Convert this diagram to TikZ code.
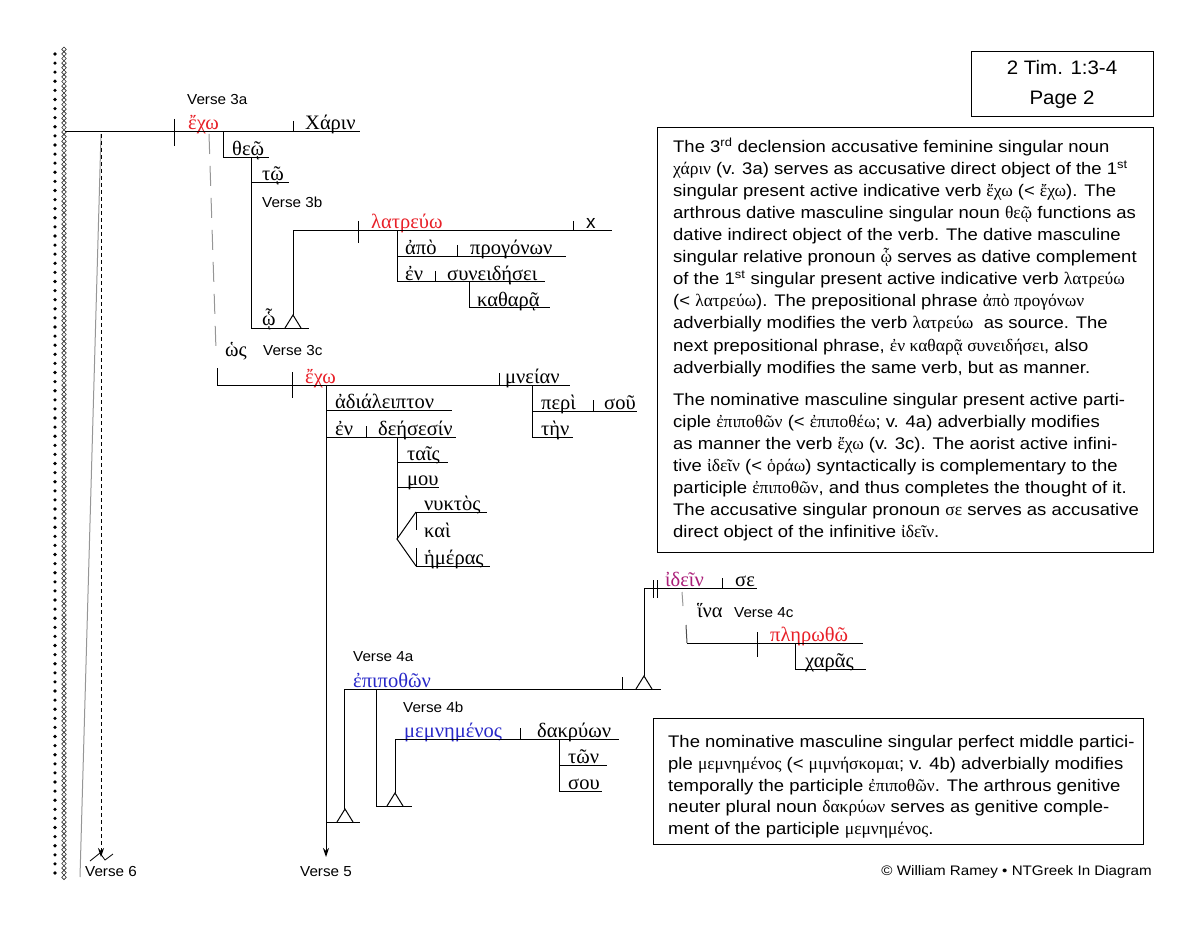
\documentclass[tikz,border=0pt]{standalone}
\usepackage{fontspec}
\setmainfont{Liberation Sans}
\newfontfamily\grfont{Liberation Serif}
\newfontfamily\arfont{Liberation Sans}[FakeStretch=1.10]
\newfontfamily\lbfont{Liberation Sans}[FakeStretch=1.05]
\usetikzlibrary{arrows.meta}
\newcommand\grw{\grfont\fontsize{20.5}{24}\selectfont}
\newcommand\gs{\grfont\fontsize{17.5}{20}\selectfont}
\newcommand\txf{\arfont\fontsize{16.8}{22}\selectfont}
\newcommand\vlabf{\lbfont\fontsize{14.5}{16}\selectfont}
\definecolor{vred}{RGB}{232,32,40}
\definecolor{vblue}{RGB}{40,40,200}
\definecolor{vmag}{RGB}{170,30,120}
\definecolor{lgray}{RGB}{150,150,150}
\newcommand\trimark[1]{\draw[ln] (#1) ++(-8,0) -- ++(8,-13) -- ++(8,13);}
\begin{document}
\begin{tikzpicture}[x=1pt,y=-1pt,
  ln/.style={line width=1pt},
  gw/.style={font=\grw, anchor=base west, inner sep=0},
  vl/.style={font=\vlabf, anchor=west, inner sep=0},
  tl/.style={font=\txf, anchor=base west, inner sep=0},
  boxr/.style={draw, line width=1pt, inner sep=0, anchor=north west}]
\useasboundingbox (0,0) rectangle (1203,928);

% left border
\foreach \i in {0,...,90} \fill (55,54+\i*9.1) circle (1.8);
\foreach \i in {0,...,180} \draw[line width=0.6pt, black!85] (64,47+\i*4.6) -- ++(2.3,2.3) -- ++(-2.3,2.3) -- ++(-2.3,-2.3) -- cycle;

% coordinates
\coordinate (mainL) at (65,132);
\coordinate (v6top) at (101,134);
\coordinate (v6end) at (101,857);
\coordinate (v6gray) at (80,877);
\coordinate (v5top) at (326,385);
\coordinate (v5end) at (326,857);

% words
\node[gw, text=vred] (exo1) at (188,130) {ἔχω};
\node[gw] (xarin) at (305,130) {Χάριν};
\node[gw] (theo) at (232,156) {θεῷ};
\node[gw] (to) at (262,181) {τῷ};
\node[gw] (ho) at (262,326) {ᾧ};
\node[gw, text=vred] (latreuo) at (371,229) {λατρεύω};
\node[anchor=base west, inner sep=0, font=\fontsize{19}{20}\selectfont] (xx) at (586,229) {x};
\node[gw] (apo) at (405,255) {ἀπὸ};
\node[gw] (progonon) at (470,255) {προγόνων};
\node[gw] (en1) at (405,280) {ἐν};
\node[gw] (syneid) at (447,280) {συνειδήσει};
\node[gw] (kathara) at (477,306) {καθαρᾷ};
\node[gw] (hos) at (225,356) {ὡς};
\node[gw, text=vred] (exo2) at (305,383) {ἔχω};
\node[gw] (mneian) at (505,383) {μνείαν};
\node[gw] (adial) at (335,408) {ἀδιάλειπτον};
\node[gw] (en2) at (335,435) {ἐν};
\node[gw] (deesesin) at (378,435) {δεήσεσίν};
\node[gw] (tais) at (407,460) {ταῖς};
\node[gw] (mou) at (407,485) {μου};
\node[gw] (nyktos) at (424,510) {νυκτὸς};
\node[gw] (kai) at (424,537) {καὶ};
\node[gw] (hemeras) at (424,564) {ἡμέρας};
\node[gw] (peri) at (541,409) {περὶ};
\node[gw] (sou1) at (604,409) {σοῦ};
\node[gw] (ten) at (541,435) {τὴν};
\node[gw, text=vmag] (idein) at (665,586) {ἰδεῖν};
\node[gw] (se) at (735,586) {σε};
\node[gw] (hina) at (697,617) {ἵνα};
\node[gw, text=vred] (plerotho) at (770,641) {πληρωθῶ};
\node[gw] (xaras) at (805,667) {χαρᾶς};
\node[gw, text=vblue] (epipothon) at (353,687) {ἐπιποθῶν};
\node[gw, text=vblue] (memn) at (404,737) {μεμνημένος};
\node[gw] (dakryon) at (537,737) {δακρύων};
\node[gw] (ton) at (568,763) {τῶν};
\node[gw] (sou2) at (568,789) {σου};

% verse labels
\node[vl] (v3a) at (187,100) {Verse 3a};
\node[vl] (v3b) at (262,202) {Verse 3b};
\node[vl] (v3c) at (263,351) {Verse 3c};
\node[vl] (v4a) at (353,657) {Verse 4a};
\node[vl] (v4b) at (403,707) {Verse 4b};
\node[vl] (v4c) at (734,613) {Verse 4c};
\node[vl] (v6) at (85,872) {Verse 6};
\node[vl] (v5) at (300,872) {Verse 5};

% verse 6 connectors
\draw[line width=1pt, lgray] (v6top) -- (v6gray);
\draw[line width=1pt, dash pattern=on 4pt off 3pt, -{Stealth[length=9pt,width=6pt]}] (v6top) -- (v6end);
\draw[line width=0.8pt] (90,861) -- (100,853) -- (105,860) -- (113,854);

% clause 3a
\draw[ln] (mainL) -- (360,132);
\draw[ln] (174,119) -- (174,146);
\draw[ln] (293,121) -- (293,132);
\draw[ln] (223,132) -- (223,158) -- (269,158);
\draw[ln] (251,158) -- (251,328) -- (309,328);
\draw[ln] (251,183) -- (289,183);
\coordinate (triA) at (293,328);
\trimark{triA}
\draw[ln] (293,315) -- (293,231) -- (612,231);
\draw[ln] (358,221) -- (358,243);
\draw[ln] (573,221) -- (573,231);
\draw[ln] (397,231) -- (397,282) -- (545,282);
\draw[ln] (397,257) -- (566,257);
\draw[ln] (457,245) -- (457,257);
\draw[ln] (435,271) -- (435,282);
\draw[ln] (469,282) -- (469,308) -- (550,308);

% hos connector
\draw[line width=1pt, lgray, dash pattern=on 20pt off 12pt] (209,134) -- (216,350);
\draw[ln] (217,368) -- (217,385) -- (570,385);

% clause 3c
\draw[ln] (292,372) -- (292,398);
\draw[ln] (499,373) -- (499,385);
\draw[ln, -{Stealth[length=9pt,width=6pt]}] (v5top) -- (v5end);
\draw[ln] (326,410) -- (452,410);
\draw[ln] (326,437) -- (456,437);
\draw[ln] (366,426) -- (366,437);
\draw[ln] (397,437) -- (397,539);
\draw[ln] (397,462) -- (448,462);
\draw[ln] (397,487) -- (439,487);
\draw[ln] (416,512) -- (397,539) -- (416,566);
\draw[ln] (416,512) -- (487,512);
\draw[ln] (416,566) -- (490,566);
\draw[ln] (416,512) -- (416,530);
\draw[ln] (416,548) -- (416,566);
\draw[ln] (532,385) -- (532,437) -- (573,437);
\draw[ln] (532,411) -- (637,411);
\draw[ln] (593,400) -- (593,411);

% verse 4a
\draw[ln] (344,689) -- (661,689);
\draw[ln] (622,677) -- (622,689);
\coordinate (triB) at (644,689);
\trimark{triB}
\draw[ln] (644,676) -- (644,588) -- (757,588);
\draw[ln] (653,580) -- (653,598);
\draw[ln] (657,580) -- (657,598);
\draw[ln] (722,578) -- (722,588);
\draw[line width=1pt, lgray] (682,592) -- (683,606);
\draw[line width=1pt, black!70] (686,625) -- (687,643);
\draw[ln] (687,643) -- (863,643);
\draw[ln] (757,632) -- (757,657);
\draw[ln] (795,643) -- (795,669) -- (866,669);
\draw[ln] (344,689) -- (344,809);
\coordinate (triC) at (345,822);
\trimark{triC}
\draw[ln] (326,822) -- (360,822);

% verse 4b
\draw[ln] (376,689) -- (376,806) -- (412,806);
\coordinate (triD) at (395,806);
\trimark{triD}
\draw[ln] (395,793) -- (395,739) -- (619,739);
\draw[ln] (520,728) -- (520,739);
\draw[ln] (559,739) -- (559,791) -- (602,791);
\draw[ln] (559,765) -- (607,765);

% title box
\node[draw, line width=1pt, minimum width=182pt, minimum height=65pt, align=center, inner sep=0,
  font=\lbfont\fontsize{19.5}{30}\selectfont] (title) at (1062,84.5) {2 Tim. 1:3-4\\Page 2};

% note box 1
\node[boxr, minimum width=496pt, minimum height=425pt] (box1) at (657,127) {};
\node[tl] (b1) at (673,153) {The 3\textsuperscript{rd} declension accusative feminine singular noun};
\node[tl] (b2) at (673,175) {{\gs χάριν} (v. 3a) serves as accusative direct object of the 1\textsuperscript{st}};
\node[tl] (b3) at (673,197) {singular present active indicative verb {\gs ἔχω} (< {\gs ἔχω}). The};
\node[tl] (b4) at (673,219) {arthrous dative masculine singular noun {\gs θεῷ} functions as};
\node[tl] (b5) at (673,241) {dative indirect object of the verb. The dative masculine};
\node[tl] (b6) at (673,263) {singular relative pronoun {\gs ᾧ} serves as dative complement};
\node[tl] (b7) at (673,285) {of the 1\textsuperscript{st} singular present active indicative verb {\gs λατρεύω}};
\node[tl] (b8) at (673,307) {(< {\gs λατρεύω}). The prepositional phrase {\gs ἀπὸ προγόνων}};
\node[tl] (b9) at (673,329) {adverbially modifies the verb {\gs λατρεύω}\ \ as source. The};
\node[tl] (b10) at (673,351) {next prepositional phrase, {\gs ἐν καθαρᾷ συνειδήσει}, also};
\node[tl] (b11) at (673,373) {adverbially modifies the same verb, but as manner.};
\node[tl] (b12) at (673,405) {The nominative masculine singular present active parti-};
\node[tl] (b13) at (673,427) {ciple {\gs ἐπιποθῶν} (< {\gs ἐπιποθέω}; v. 4a) adverbially modifies};
\node[tl] (b14) at (673,449) {as manner the verb {\gs ἔχω} (v. 3c). The aorist active infini-};
\node[tl] (b15) at (673,471) {tive {\gs ἰδεῖν} (< {\gs ὁράω}) syntactically is complementary to the};
\node[tl] (b16) at (673,493) {participle {\gs ἐπιποθῶν}, and thus completes the thought of it.};
\node[tl] (b17) at (673,515) {The accusative singular pronoun {\gs σε} serves as accusative};
\node[tl] (b18) at (673,537) {direct object of the infinitive {\gs ἰδεῖν}.};

% note box 2
\node[boxr, minimum width=490pt, minimum height=126pt] (box2) at (653,718) {};
\node[tl] (c1) at (668,747) {The nominative masculine singular perfect middle partici-};
\node[tl] (c2) at (668,769) {ple {\gs μεμνημένος} (< {\gs μιμνήσκομαι}; v. 4b) adverbially modifies};
\node[tl] (c3) at (668,791) {temporally the participle {\gs ἐπιποθῶν}. The arthrous genitive};
\node[tl] (c4) at (668,812) {neuter plural noun {\gs δακρύων} serves as genitive comple-};
\node[tl] (c5) at (668,834) {ment of the participle {\gs μεμνημένος}.};

% copyright
\node[font=\arfont\fontsize{13.8}{16}\selectfont, anchor=east, inner sep=0] (copy) at (1152,872) {© William Ramey • NTGreek In Diagram};
\end{tikzpicture}
\end{document}
